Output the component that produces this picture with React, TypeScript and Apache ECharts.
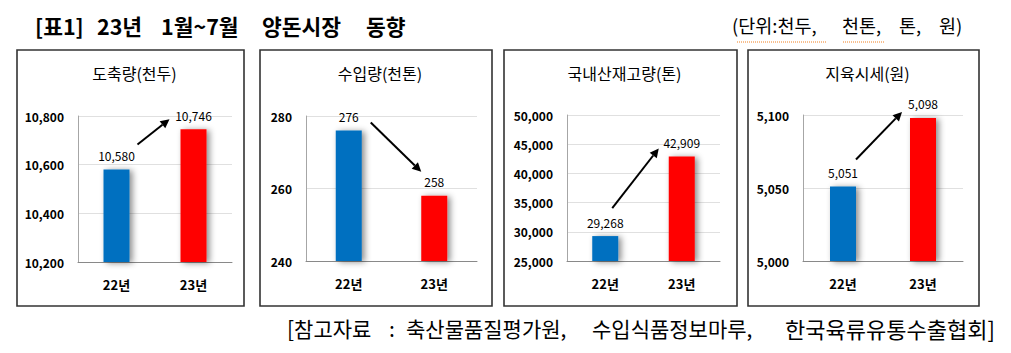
import React, { useEffect, useRef } from "react";
import * as echarts from "echarts";

const categories = ["22년", "23년"];
const panelTitles = ["도축량(천두)", "수입량(천톤)", "국내산재고량(톤)", "지육시세(원)"];
const slaughter = [10580, 10746];
const imports = [276, 258];
const stock = [29268, 42909];
const price = [5051, 5098];
const yMins = [10200, 240, 25000, 5000];
const yMaxs = [10800, 280, 50000, 5100];
const yIntervals = [200, 20, 5000, 50];
const barColors = ["#0070C0", "#FF0000"];
const headerWords = ["[표1]", "23년", "1월~7월", "양돈시장", "동향"];
const unitWords = ["(단위:천두,", "천톤,", "톤,", "원)"];
const sourceWords = ["[참고자료", ":", "축산물품질평가원,", "수입식품정보마루,", "한국육류유통수출협회]"];

const FONT = '"Noto Sans CJK KR", "Malgun Gothic", sans-serif';

const seriesValues = [slaughter, imports, stock, price];

// layout (pixels)
const boxes = [
  { x: 17, w: 227 },
  { x: 260, w: 232 },
  { x: 504, w: 233 },
  { x: 748, w: 231 },
];
const grids = [
  { left: 78, width: 154, top: 116, height: 146 },
  { left: 306, width: 171, top: 116, height: 145 },
  { left: 567, width: 153, top: 115, height: 146 },
  { left: 803, width: 160, top: 115, height: 146 },
];
const headerX = [35, 97, 161, 262, 366];
const unitX = [732, 842, 899, 939];
const sourceX = [287, 389, 406, 592, 785];
const sourceSizes = [21, 21, 21, 21, 22];
// arrow offsets relative to bar tops: [startDx, startDy, endDx, endDy]
const arrowOffsets = [
  [21, -25, -24, -10],
  [22, -8, -13, -24],
  [7, -28, -23, -8],
  [13, -27, -21, -6],
];

const fmt = (v: number) => v.toLocaleString("en-US");

export default function App() {
  const ref = useRef<HTMLDivElement>(null);
  useEffect(() => {
    if (!ref.current) return;
    const chart = echarts.init(ref.current, null, { renderer: "svg" });
    const option: any = {
      animation: false,
      textStyle: { fontFamily: FONT },
      grid: grids.map((g) => ({ ...g })),
      xAxis: grids.map((_, i) => ({
        type: "category",
        gridIndex: i,
        data: categories,
        axisTick: { show: false },
        axisLine: { lineStyle: { color: "#898989", width: 1 } },
        axisLabel: { color: "#000", fontWeight: "bold", fontSize: 13, margin: 16, fontFamily: FONT },
      })),
      yAxis: grids.map((_, i) => ({
        type: "value",
        gridIndex: i,
        min: yMins[i],
        max: yMaxs[i],
        interval: yIntervals[i],
        axisLine: { show: true, lineStyle: { color: "#a6a6a6", width: 1 } },
        axisTick: { show: false },
        splitLine: { lineStyle: { color: "#e0e0e0", width: 1 } },
        axisLabel: { color: "#000", fontWeight: "bold", fontSize: 12, margin: 14, formatter: (v: number) => fmt(v), fontFamily: FONT },
      })),
      series: seriesValues.map((vals, i) => ({
        type: "bar",
        xAxisIndex: i,
        yAxisIndex: i,
        barWidth: 26,
        data: vals.map((v, j) => ({
          value: v,
          itemStyle: {
            color: barColors[j],
            shadowBlur: 6,
            shadowColor: "rgba(0,0,0,0.45)",
            shadowOffsetX: 3,
            shadowOffsetY: 1,
          },
        })),
        label: {
          show: true,
          position: "top",
          distance: 8,
          color: "#000",
          fontSize: 12,
          fontFamily: FONT,
          formatter: (p: any) => fmt(p.value),
        },
      })),
    };
    chart.setOption(option);

    const graphic: any[] = [];
    boxes.forEach((b, i) => {
      graphic.push({
        type: "rect",
        shape: { x: b.x, y: 50, width: b.w, height: 256 },
        style: { fill: "none", stroke: "#333", lineWidth: 1.6 },
        z: 0,
      });
      graphic.push({
        type: "text",
        x: b.x + b.w / 2 + 4,
        y: 73,
        style: {
          text: panelTitles[i],
          fontSize: 16,
          fontFamily: FONT,
          fill: "#000",
          textAlign: "center",
          textVerticalAlign: "middle",
        },
      });
    });
    headerWords.forEach((w, i) => {
      graphic.push({
        type: "text",
        x: headerX[i],
        y: 25,
        style: { text: w, fontSize: 21.5, fontWeight: "bold", fontFamily: FONT, fill: "#000", textVerticalAlign: "middle" },
      });
    });
    unitWords.forEach((w, i) => {
      graphic.push({
        type: "text",
        x: unitX[i],
        y: 25,
        style: { text: w, fontSize: 18.5, fontFamily: FONT, fill: "#000", textVerticalAlign: "middle" },
      });
    });
    graphic.push({
      type: "line",
      shape: { x1: 737, y1: 42, x2: 827, y2: 42 },
      style: { stroke: "#F08020", lineWidth: 1, lineDash: [1, 1] },
    });
    graphic.push({
      type: "line",
      shape: { x1: 843, y1: 42, x2: 885, y2: 42 },
      style: { stroke: "#F08020", lineWidth: 1, lineDash: [1, 1] },
    });
    sourceWords.forEach((w, i) => {
      graphic.push({
        type: "text",
        x: sourceX[i],
        y: 328,
        style: {
          text: w,
          fontSize: sourceSizes[i],
          fontFamily: FONT,
          fill: "#000",
          textVerticalAlign: "middle",
        },
      });
    });

    seriesValues.forEach((vals, i) => {
      const p0 = chart.convertToPixel({ seriesIndex: i }, [0, vals[0]]) as number[];
      const p1 = chart.convertToPixel({ seriesIndex: i }, [1, vals[1]]) as number[];
      const o = arrowOffsets[i];
      const x1 = p0[0] + o[0];
      const y1 = p0[1] + o[1];
      const x2 = p1[0] + o[2];
      const y2 = p1[1] + o[3];
      const ang = Math.atan2(y2 - y1, x2 - x1);
      const hl = 9;
      const hw = 4.5;
      const bx = x2 - hl * Math.cos(ang);
      const by = y2 - hl * Math.sin(ang);
      const nx = -Math.sin(ang);
      const ny = Math.cos(ang);
      graphic.push({
        type: "line",
        shape: { x1, y1, x2: bx, y2: by },
        style: { stroke: "#000", lineWidth: 2 },
        z: 10,
      });
      graphic.push({
        type: "polygon",
        shape: {
          points: [
            [x2, y2],
            [bx + nx * hw, by + ny * hw],
            [bx - nx * hw, by - ny * hw],
          ],
        },
        style: { fill: "#000" },
        z: 10,
      });
    });
    chart.setOption({ graphic });

    return () => chart.dispose();
  }, []);
  return (
    <div
      ref={ref}
      style={{ position: "absolute", left: 0, top: 0, width: 1011, height: 353, background: "#fff" }}
    />
  );
}
